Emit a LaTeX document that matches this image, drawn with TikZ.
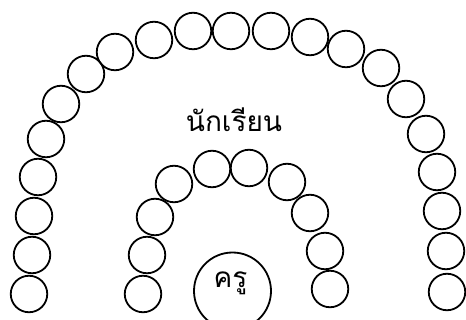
\documentclass[tikz,border=0pt]{standalone}
\usepackage{fontspec}
\newfontfamily\thaifont[Script=Thai]{Loma}
\tikzset{seat/.style={circle,draw,line width=1.8pt,minimum size=36.5pt,inner sep=0pt},
  teacher/.style={circle,draw,line width=1.8pt,minimum size=77pt,inner sep=0pt},
  label/.style={anchor=base,inner sep=0pt,font=\thaifont\fontsize{28}{32}\selectfont}}
\begin{document}
\begin{tikzpicture}[x=1pt,y=-1pt]
  \useasboundingbox (0,0) rectangle (466,320);
  % outer row of students
  \foreach \x/\y [count=\i] in {29/294,32/255,34/216,38/177,46/139,61/104,86/74,115/52,
      154/40,193/31,231/31,271/31,310/37,346/49,381/68,406/99,426/134,437/172,442/211,446/251,447/292}
    \node[seat] (outer\i) at (\x,\y) {};
  % inner row of students
  \foreach \x/\y [count=\i] in {143/294,147/255,155/217,174/184,212/169,249/168,287/182,310/213,325/251,330/289}
    \node[seat] (inner\i) at (\x,\y) {};
  \node[teacher] (kru) at (232.5,291) {};
  \node[label] (krulabel) at (230.5,288) {ครู};
  \node[label] (students) at (234,132) {นักเรียน};
\end{tikzpicture}
\end{document}
